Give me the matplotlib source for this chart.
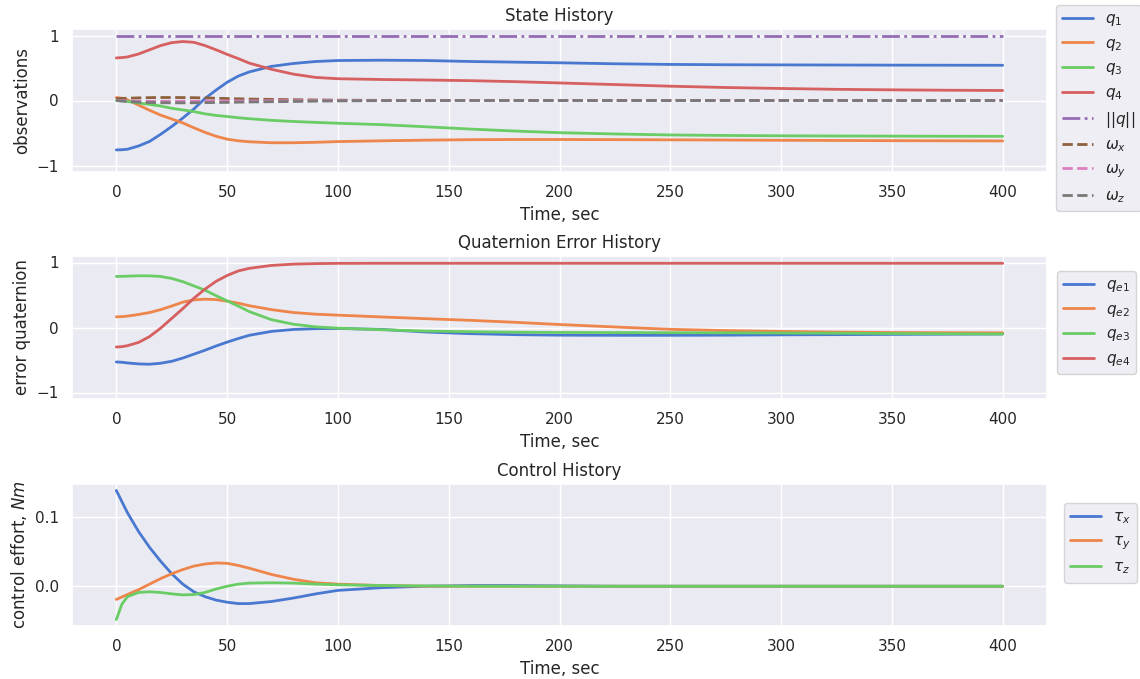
import numpy as np
import matplotlib
matplotlib.use("Agg")
import matplotlib.pyplot as plt
import seaborn as sns

# Sample times (sec)
t = [0, 2.5, 5, 10, 15, 20, 25, 30, 35, 40, 45, 50, 55, 60, 70, 80, 90, 100,
     120, 140, 160, 180, 200, 225, 250, 275, 300, 325, 350, 375, 400]

# Attitude quaternion
q1 = [-0.76, -0.758, -0.75, -0.70, -0.63, -0.52, -0.40, -0.27, -0.13, 0.03, 0.16, 0.28,
      0.375, 0.44, 0.525, 0.57, 0.60, 0.615, 0.62, 0.615, 0.60, 0.59, 0.58, 0.565,
      0.555, 0.55, 0.548, 0.546, 0.544, 0.543, 0.542]
q2 = [0.045, 0.035, 0.01, -0.07, -0.15, -0.225, -0.285, -0.345, -0.42, -0.49, -0.55, -0.595,
      -0.62, -0.635, -0.65, -0.65, -0.643, -0.632, -0.62, -0.61, -0.603, -0.60, -0.60, -0.602,
      -0.605, -0.608, -0.612, -0.615, -0.618, -0.62, -0.622]
q3 = [0.0, -0.005, -0.015, -0.038, -0.06, -0.085, -0.12, -0.145, -0.17, -0.205, -0.23, -0.246,
      -0.265, -0.28, -0.305, -0.323, -0.337, -0.35, -0.372, -0.405, -0.44, -0.47, -0.495, -0.515,
      -0.53, -0.538, -0.543, -0.546, -0.548, -0.55, -0.551]
q4 = [0.655, 0.66, 0.67, 0.715, 0.78, 0.845, 0.89, 0.907, 0.895, 0.845, 0.78, 0.71,
      0.645, 0.575, 0.48, 0.405, 0.355, 0.335, 0.323, 0.315, 0.305, 0.29, 0.27, 0.245,
      0.22, 0.20, 0.185, 0.172, 0.164, 0.158, 0.154]
qnorm = [1.0] * len(t)

# Body rates
wx = [0.03, 0.032, 0.035, 0.04, 0.044, 0.046, 0.046, 0.045, 0.043, 0.04, 0.035, 0.03,
      0.026, 0.022, 0.017, 0.012, 0.008, 0.005, 0.002, 0.001, 0.0, 0.0, 0.0, 0.0,
      0.0, 0.0, 0.0, 0.0, 0.0, 0.0, 0.0]
wy = [0.0, -0.003, -0.006, -0.01, -0.012, -0.013, -0.013, -0.012, -0.011, -0.01, -0.009, -0.008,
      -0.007, -0.006, -0.004, -0.003, -0.002, -0.001, 0.0, 0.0, 0.0, 0.0, 0.0, 0.0,
      0.0, 0.0, 0.0, 0.0, 0.0, 0.0, 0.0]
wz = [0.0, -0.008, -0.015, -0.025, -0.031, -0.034, -0.036, -0.036, -0.035, -0.033, -0.031, -0.029,
      -0.026, -0.023, -0.019, -0.015, -0.01, -0.006, -0.002, -0.001, 0.0, 0.0, 0.0, 0.0,
      0.0, 0.0, 0.0, 0.0, 0.0, 0.0, 0.0]

# Error quaternion
qe1 = [-0.53, -0.535, -0.545, -0.56, -0.565, -0.55, -0.52, -0.47, -0.41, -0.35, -0.285, -0.225,
       -0.17, -0.12, -0.06, -0.03, -0.018, -0.015, -0.03, -0.07, -0.095, -0.11, -0.118, -0.12,
       -0.12, -0.118, -0.113, -0.11, -0.106, -0.103, -0.10]
qe2 = [0.165, 0.167, 0.175, 0.20, 0.23, 0.275, 0.33, 0.39, 0.425, 0.436, 0.43, 0.405,
       0.375, 0.335, 0.275, 0.23, 0.205, 0.19, 0.162, 0.135, 0.11, 0.08, 0.046, 0.008,
       -0.028, -0.047, -0.06, -0.07, -0.077, -0.08, -0.082]
qe3 = [0.785, 0.787, 0.79, 0.795, 0.795, 0.785, 0.755, 0.705, 0.64, 0.575, 0.49, 0.41,
       0.33, 0.245, 0.12, 0.05, 0.01, -0.01, -0.035, -0.055, -0.065, -0.072, -0.076, -0.078,
       -0.08, -0.082, -0.085, -0.088, -0.092, -0.096, -0.10]
qe4 = [-0.30, -0.295, -0.28, -0.23, -0.14, -0.01, 0.14, 0.29, 0.45, 0.59, 0.71, 0.80,
       0.87, 0.91, 0.955, 0.975, 0.983, 0.987, 0.988, 0.988, 0.988, 0.988, 0.988, 0.988,
       0.988, 0.988, 0.988, 0.988, 0.988, 0.988, 0.988]

# Control torques (Nm)
tau_x = [0.138, 0.122, 0.106, 0.079, 0.056, 0.036, 0.018, 0.003, -0.008, -0.015, -0.020, -0.023,
         -0.025, -0.025, -0.022, -0.017, -0.011, -0.006, -0.002, 0.0, 0.001, 0.001, 0.0005, 0.0,
         0.0, 0.0, 0.0, 0.0, 0.0, 0.0, 0.0]
tau_y = [-0.019, -0.0155, -0.012, -0.005, 0.003, 0.011, 0.018, 0.024, 0.029, 0.032, 0.0335, 0.033,
         0.030, 0.026, 0.017, 0.010, 0.005, 0.003, 0.001, 0.0, 0.0, 0.0, 0.0, 0.0,
         0.0, 0.0, 0.0, 0.0, 0.0, 0.0, 0.0]
tau_z = [-0.048, -0.026, -0.015, -0.009, -0.008, -0.009, -0.011, -0.0125, -0.012, -0.009, -0.004, 0.0,
         0.003, 0.0045, 0.005, 0.0045, 0.003, 0.002, 0.001, 0.0005, 0.0, 0.0, 0.0, 0.0,
         0.0, 0.0, 0.0, 0.0, 0.0, 0.0, 0.0]

sns.set_theme(style="darkgrid", palette="muted")
plt.rcParams["font.family"] = ["DejaVu Sans"]
pal = sns.color_palette("muted")

fig = plt.figure(figsize=(11.4, 6.79), dpi=100)
W, H = 1140, 679


def add_axes(left, top, right, bottom):
    return fig.add_axes([left / W, 1 - bottom / H, (right - left) / W, (bottom - top) / H])


lw = 2.0

# State history
ax1 = add_axes(72, 29, 1047, 172)
ax1.plot(t, q1, color=pal[0], lw=lw, label=r"$q_1$")
ax1.plot(t, q2, color=pal[1], lw=lw, label=r"$q_2$")
ax1.plot(t, q3, color=pal[2], lw=lw, label=r"$q_3$")
ax1.plot(t, q4, color=pal[3], lw=lw, label=r"$q_4$")
ax1.plot(t, qnorm, color=pal[4], lw=lw, ls="-.", label=r"$||q||$")
ax1.plot(t, wx, color=pal[5], lw=lw, ls="--", label=r"$\omega_x$")
ax1.plot(t, wy, color=pal[6], lw=lw, ls="--", label=r"$\omega_y$")
ax1.plot(t, wz, color=pal[7], lw=lw, ls="--", label=r"$\omega_z$")
ax1.set_ylim(-1.1, 1.1)
ax1.set_yticks([-1, 0, 1])
ax1.set_title("State History", fontsize=12)
ax1.set_xlabel("Time, sec")
ax1.set_ylabel("observations")
ax1.legend(loc="upper left", bbox_to_anchor=(1056 / W, 1 - 5 / H),
           bbox_transform=fig.transFigure, borderaxespad=0)

# Quaternion error history
ax2 = add_axes(72, 256, 1047, 399)
ax2.plot(t, qe1, color=pal[0], lw=lw, label=r"$q_{e1}$")
ax2.plot(t, qe2, color=pal[1], lw=lw, label=r"$q_{e2}$")
ax2.plot(t, qe3, color=pal[2], lw=lw, label=r"$q_{e3}$")
ax2.plot(t, qe4, color=pal[3], lw=lw, label=r"$q_{e4}$")
ax2.set_ylim(-1.1, 1.1)
ax2.set_yticks([-1, 0, 1])
ax2.set_title("Quaternion Error History", fontsize=12)
ax2.set_xlabel("Time, sec")
ax2.set_ylabel("error quaternion")
ax2.legend(loc="upper left", bbox_to_anchor=(1057 / W, 1 - 271 / H),
           bbox_transform=fig.transFigure, borderaxespad=0)

# Control history
ax3 = add_axes(72, 484, 1047, 626)
ax3.plot(t, tau_x, color=pal[0], lw=lw, label=r"$\tau_x$")
ax3.plot(t, tau_y, color=pal[1], lw=lw, label=r"$\tau_y$")
ax3.plot(t, tau_z, color=pal[2], lw=lw, label=r"$\tau_z$")
ax3.set_yticks([0.0, 0.1])
ax3.set_title("Control History", fontsize=12)
ax3.set_xlabel("Time, sec")
ax3.set_ylabel(r"control effort, $Nm$")
ax3.legend(loc="upper left", bbox_to_anchor=(1064 / W, 1 - 503 / H),
           bbox_transform=fig.transFigure, borderaxespad=0)

for ax in (ax1, ax2, ax3):
    ax.set_xticks([0, 50, 100, 150, 200, 250, 300, 350, 400])
    ax.set_xlim(-20, 420)

fig.savefig("out.png", dpi=100)
